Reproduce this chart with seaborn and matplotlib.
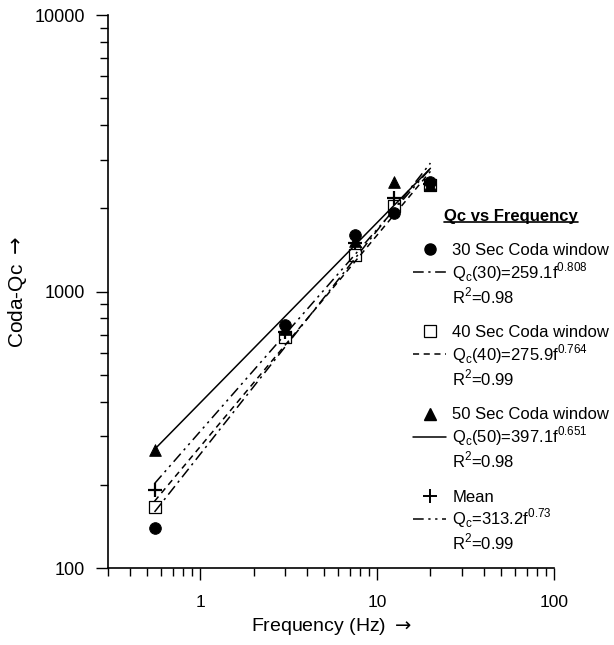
import matplotlib
matplotlib.use("Agg")
import matplotlib.pyplot as plt
import matplotlib.ticker as mticker
from matplotlib.lines import Line2D
import numpy as np
import pandas as pd
import seaborn as sns

# frequences centrales (Hz) et Qc
freq = [0.55, 3.0, 7.5, 12.5, 20.0]
qc_30 = [140, 756, 1600, 1919, 2490]
qc_40 = [166, 687, 1361, 2040, 2430]
qc_50 = [268, 735, 1530, 2495, 2420]
qc_mean = [192, 716, 1495, 2174, 2440]

# lois Qc = Q0 * f^n (legende)
fit_names = ["30", "40", "50", "mean"]
fit_q0 = [259.1, 275.9, 397.1, 313.2]
fit_n = [0.808, 0.764, 0.651, 0.73]
fit_r2 = [0.98, 0.99, 0.98, 0.99]

sns.set_style("ticks")
plt.rcParams["font.family"] = ["Liberation Sans", "DejaVu Sans"]
plt.rcParams.update({
    "text.color": "black", "axes.labelcolor": "black",
    "xtick.color": "black", "ytick.color": "black",
    "axes.edgecolor": "black",
})

fig = plt.figure(figsize=(6.14, 6.45), dpi=100)
ax = fig.add_axes([108 / 614, 76.7 / 645, 446 / 614, 553.3 / 645])
ax.set_xscale("log")
ax.set_yscale("log")

# points (carres dessous, droites, puis symboles pleins)
sns.scatterplot(x=freq, y=qc_40, ax=ax, legend=False, zorder=2,
                marker="s", color="white", edgecolor="k", s=70, linewidth=0.9)
point_style = [
    (qc_30, dict(marker="o", color="k", edgecolor="k", s=70)),
    (qc_50, dict(marker="^", color="k", edgecolor="k", s=70)),
    (qc_mean, dict(marker="+", color="k", s=110, linewidth=1.6)),
]
for vals, kw in point_style:
    sns.scatterplot(x=freq, y=vals, ax=ax, legend=False, zorder=4, **kw)

# droites d'ajustement
f_fit = np.array([freq[0], freq[-1]])
fit_df = pd.concat(
    [
        pd.DataFrame({"freq": f_fit, "qc": q0 * f_fit ** n, "fit": name})
        for name, q0, n in zip(fit_names, fit_q0, fit_n)
    ]
)
dash_map = {
    "30": (7, 3, 1.5, 3),
    "40": (4, 3),
    "50": "",
    "mean": (7, 3, 1.5, 3, 1.5, 3),
}
sns.lineplot(
    data=fit_df, x="freq", y="qc", style="fit", dashes=dash_map,
    color="k", lw=1.1, legend=False, ax=ax, zorder=3,
)

ax.set_xlim(0.3, 100)
ax.set_ylim(100, 10000)
for axis in (ax.xaxis, ax.yaxis):
    axis.set_major_locator(mticker.LogLocator(base=10))
    axis.set_minor_locator(mticker.LogLocator(base=10, subs=np.arange(2, 10)))
    axis.set_major_formatter(mticker.FuncFormatter(lambda v, p: f"{v:g}"))
    axis.set_minor_formatter(mticker.NullFormatter())
ax.tick_params(which="major", length=8.5, width=1, color="k")
ax.tick_params(which="minor", length=5.5, width=1, color="k")
ax.tick_params(axis="x", which="major", labelsize=12.5, pad=11)
ax.tick_params(axis="y", which="major", labelsize=13, pad=8)
sns.despine(ax=ax)
for sp in ("left", "bottom"):
    ax.spines[sp].set_linewidth(1.2)

ax.set_xlabel("Frequency (Hz) $\\rightarrow$", fontsize=14, labelpad=4)
ax.set_ylabel("Coda-Qc $\\rightarrow$", fontsize=15, labelpad=4)

# legende
window_labels = ["30 Sec Coda window", "40 Sec Coda window",
                 "50 Sec Coda window", "Mean"]
eq_prefix = ["Q$_{\\mathregular{c}}$(30)", "Q$_{\\mathregular{c}}$(40)",
             "Q$_{\\mathregular{c}}$(50)", "Q$_{\\mathregular{c}}$"]
marker_handles = [
    Line2D([], [], ls="None", marker="o", color="k", markersize=8),
    Line2D([], [], ls="None", marker="s", mfc="white", mec="k", markersize=8, mew=0.9),
    Line2D([], [], ls="None", marker="^", color="k", markersize=8),
    Line2D([], [], ls="None", marker="+", color="k", markersize=10, mew=1.4),
]
handles, labels = [Line2D([], [], ls="None")], [""]
for i, name in enumerate(fit_names):
    d = dash_map[name]
    line_h = Line2D([], [], color="k", lw=1.1)
    if d:
        line_h.set_dashes(d)
    blank = Line2D([], [], ls="None")
    handles += [marker_handles[i], line_h, blank]
    labels += [
        window_labels[i],
        f"{eq_prefix[i]}={fit_q0[i]}f$^{{\\mathregular{{{fit_n[i]:g}}}}}$",
        f"R$^{{\\mathregular{{2}}}}$={fit_r2[i]:.2f}",
    ]
    if i < len(fit_names) - 1:
        handles.append(Line2D([], [], ls="None"))
        labels.append("")

leg = ax.legend(
    handles, labels, title="Qc vs Frequency",
    loc="upper left", bbox_to_anchor=(413 / 614, 1 - 209 / 645),
    bbox_transform=fig.transFigure, frameon=False, fontsize=12,
    title_fontproperties={"weight": "bold", "size": 12},
    handlelength=2.0, handletextpad=0.35, labelspacing=0.12,
    borderpad=0, borderaxespad=0,
)

# soulignement du titre
fig.canvas.draw()
bb = leg.get_title().get_window_extent()
inv = fig.transFigure.inverted()
(x0, y0), (x1, _) = inv.transform([(bb.x0, bb.y0 + 2), (bb.x1, bb.y0 + 2)])
fig.add_artist(Line2D([x0, x1], [y0, y0], color="k", lw=1.2, transform=fig.transFigure))

fig.savefig("out.png", dpi=100)
